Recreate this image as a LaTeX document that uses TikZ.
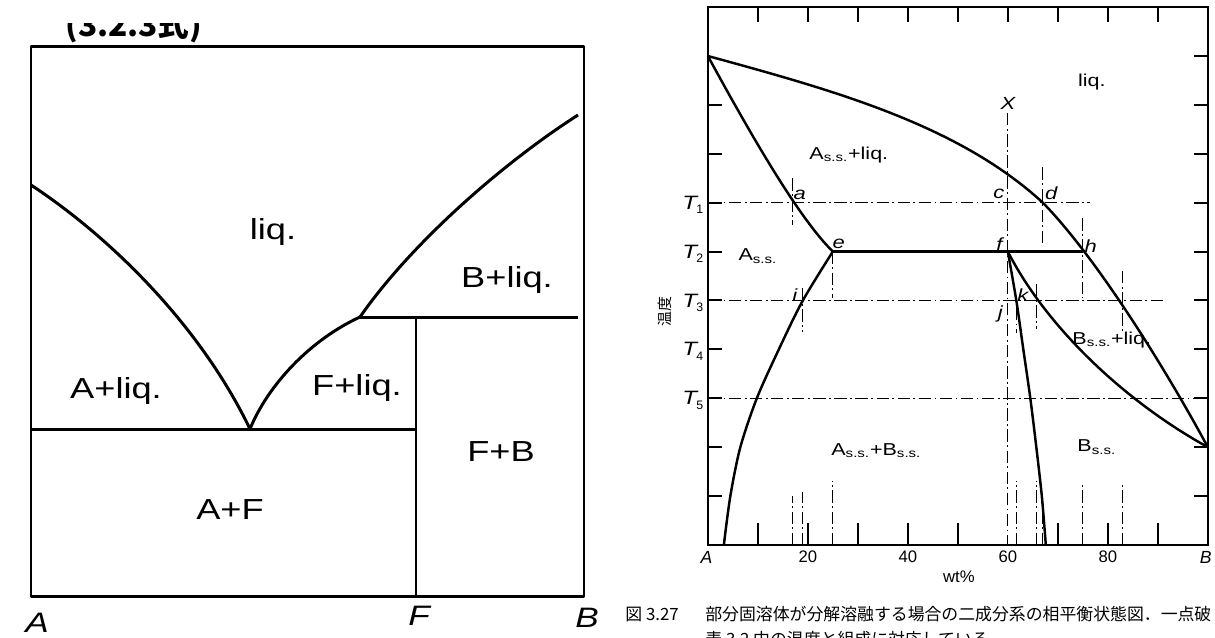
\documentclass[tikz,border=0pt]{standalone}
\usepackage{fontspec}
\setmainfont{Liberation Sans}
\newfontfamily\lblfont[FakeStretch=1.25]{Liberation Sans}
\newfontfamily\jpfont{Noto Sans CJK JP}
\usepackage{tikz}

\begin{document}
\begin{tikzpicture}[x=0.02cm, y=-0.02cm,
    bd/.style={line width=1.7pt, line join=round},
    frm/.style={line width=1.2pt},
    tk/.style={line width=1.1pt},
    phase/.style={line width=1.4pt, line join=round},
    chainline/.style={line width=0.5pt, dash pattern=on 7pt off 2pt on 1pt off 2pt},
    bigtxt/.style={font=\lblfont\fontsize{16.5}{19}\selectfont, inner sep=0pt},
    bigit/.style={font=\lblfont\itshape\fontsize{16}{19}\selectfont, inner sep=0pt},
    rl/.style={font=\lblfont\fontsize{9.8}{11}\selectfont, inner sep=0pt},
    ptlbl/.style={font=\lblfont\itshape\fontsize{10}{12}\selectfont, inner sep=0pt},
    numlbl/.style={font=\fontsize{9.5}{11}\selectfont, inner sep=0pt},
    captxt/.style={font=\jpfont\fontsize{9.6}{11}\selectfont, inner sep=0pt, anchor=base west}]
  \useasboundingbox (0,0) rectangle (1215,637);

  \begin{scope}
    \clip (0,23) rectangle (300,44);
    \node[anchor=base west, inner sep=0pt, font=\jpfont\bfseries\fontsize{18}{20}\selectfont] (eqref) at (65,36) {(3.2.3式)};
  \end{scope}

  \coordinate (Lm) at (31,185);
  \coordinate (E) at (250,429);
  \coordinate (P) at (360,317);
  \coordinate (Rm) at (578,115);
  \coordinate (El) at (31,429);
  \coordinate (Fe) at (416,429);
  \coordinate (Ft) at (416,317);
  \coordinate (Fb) at (416,596);
  \coordinate (Pr) at (578,317);
  \draw[bd] (31,46) rectangle (584,596);
  \draw[bd] (Lm) .. controls (110,237) and (200,325) .. (E);
  \draw[bd] (E) .. controls (268,385) and (310,340) .. (P);
  \draw[bd] (P) .. controls (410,245) and (500,165) .. (Rm);
  \draw[bd] (El) -- (Fe);
  \draw[bd] (P) -- (Pr);
  \draw[bd] (Ft) -- (Fb);
  \node[bigtxt] (liqL) at (273,232) {liq.};
  \node[bigtxt] (BliqL) at (507,280) {B+liq.};
  \node[bigtxt] (AliqL) at (116,391) {A+liq.};
  \node[bigtxt] (FliqL) at (357,388) {F+liq.};
  \node[bigtxt] (FBL) at (501,452) {F+B};
  \node[bigtxt] (AFL) at (230,510) {A+F};
  \node[bigit] (axAL) at (37,623) {A};
  \node[bigit] (axFL) at (419,616) {F};
  \node[bigit] (axBL) at (587,618) {B};

  \begin{scope}[xshift=14.16cm, yshift=-10.9cm, x=0.1cm, y=0.978cm]
    \draw[frm] (0,0) rectangle (100,11);
    \foreach \x in {10,20,...,90} \draw[tk] (\x,11) -- ++(0,-0.3);
    \foreach \x in {10,20,30,40,50,70,80,90} \draw[tk] (\x,0) -- ++(0,0.45);
    \foreach \y in {1,...,10} \draw[tk] (100,\y) -- ++(-2.8,0);
    \foreach \y in {1,...,9} \draw[tk] (0,\y) -- ++(2.8,0);

    \draw[chainline] (0,7) -- (76.4,7);
    \draw[chainline] (0,5) -- (91,5);
    \draw[chainline] (0,3) -- (100,3);
    \draw[chainline] (60,8.83) -- (60,0);
    \foreach \x/\a/\b in {17/7.5/6.55, 67/7.72/6.17, 25/6/5.05, 75/6.68/5.06,
      19/5.25/4.35, 61.7/4.85/4.33, 65.7/5.33/4.41, 83/5.6/4.38}
      \draw[chainline] (\x,\a) -- (\x,\b);
    \foreach \x/\h in {17/1, 19/1.09, 25/1.3, 61.8/1.3, 65.8/1.3, 67/0.68, 75/1.27, 83/1.27}
      \draw[chainline] (\x,0) -- (\x,\h);

    \coordinate (Am) at (0,10);
    \coordinate (Bm) at (100,2);
    \coordinate (d) at (67,7);
    \coordinate (e) at (25,6);
    \coordinate (f) at (60,6);
    \coordinate (h) at (75,6);
    \draw[phase] (Am) .. controls (25,9.3) and (50,8.6) .. (d) .. controls (78,5.85) and (92,3.52) .. (Bm);
    \draw[phase] (Am) .. controls (8,8.5) and (18,6.7) .. (e);
    \draw[phase] plot[smooth] coordinates {(e) (19,5) (14.2,4) (9.8,3) (6.5,2) (4.5,1) (3.2,0)};
    \draw[phase] (e) -- (h);
    \draw[phase] plot[smooth] coordinates {(f) (61.7,5) (63.1,4) (64.5,3) (65.7,2) (66.8,1) (67.6,0)};
    \draw[phase] (f) .. controls (68,4.4) and (84,2.9) .. (Bm);

    \node[rl] (liqR) at (76.8,9.47) {liq.};
    \node[rl] (AssLiq) at (28.2,7.98) {A\textsubscript{s.s.}+liq.};
    \node[rl] (Ass) at (10,5.9) {A\textsubscript{s.s.}};
    \node[rl] (BssLiq) at (80.8,4.2) {B\textsubscript{s.s.}+liq.};
    \node[rl] (AssBss) at (33.7,1.93) {A\textsubscript{s.s.}+B\textsubscript{s.s.}};
    \node[rl] (Bss) at (77.8,2.0) {B\textsubscript{s.s.}};

    \node[ptlbl] (X) at (60,9.02) {X};
    \node[ptlbl] (la) at (18.4,7.16) {a};
    \node[ptlbl] (lc) at (58.2,7.19) {c};
    \node[ptlbl] (ld) at (68.7,7.19) {d};
    \node[ptlbl] (le) at (26.2,6.16) {e};
    \node[ptlbl] (lf) at (58.3,6.16) {f};
    \node[ptlbl] (lh) at (76.6,6.11) {h};
    \node[ptlbl] (li) at (17.4,5.11) {i};
    \node[ptlbl] (lk) at (63,5.11) {k};
    \node[ptlbl] (lj) at (58.5,4.72) {j};

    \foreach \i/\y in {1/7,2/6,3/5,4/4,5/3} {
      \node[ptlbl, font=\lblfont\itshape\fontsize{11}{12}\selectfont] (T\i) at (-3.6,\y) {T};
      \node[numlbl, font=\fontsize{7}{8}\selectfont] (Ts\i) at (-1.6,\y-0.14) {\i};
    }
    \node[rotate=90, inner sep=0pt, font=\jpfont\fontsize{8.5}{10}\selectfont] (ondo) at (-8.6,4.77) {温度};

    \node[numlbl, font=\itshape\fontsize{10}{12}\selectfont] (axA) at (-0.3,-0.25) {A};
    \foreach \x in {20,40,60,80} \node[numlbl] (n\x) at (\x,-0.25) {\x};
    \node[numlbl, font=\itshape\fontsize{10}{12}\selectfont] (axB) at (99.6,-0.25) {B};
    \node[numlbl] (wt) at (50.2,-0.65) {wt\%};
  \end{scope}

  \node[captxt] (capno) at (625,620) {図 3.27};
  \node[captxt] (cap1) at (705,620) {部分固溶体が分解溶融する場合の二成分系の相平衡状態図．一点破};
  \node[captxt] (cap2) at (705,645) {表 3.2 中の温度と組成に対応している};
\end{tikzpicture}
\end{document}
